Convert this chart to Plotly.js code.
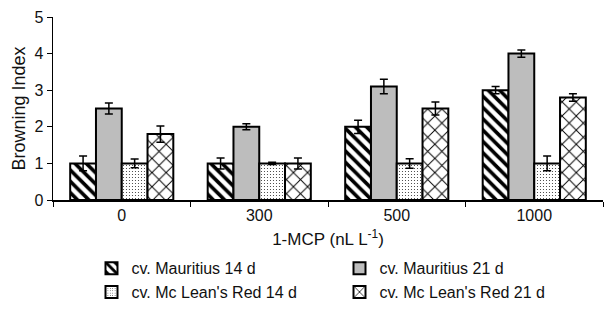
<!DOCTYPE html>
<html><head><meta charset="utf-8">
<script src="https://cdn.plot.ly/plotly-3.0.1.min.js"></script>
<style>body{margin:0;padding:0;background:#fff}#chart{width:606px;height:312px}</style>
</head><body><div id="chart"></div>
<script>
const categories = ["0", "300", "500", "1000"];
const seriesNames = ["cv. Mauritius 14 d", "cv. Mauritius 21 d", "cv. Mc Lean's Red 14 d", "cv. Mc Lean's Red 21 d"];
const mauritius14 = [1.0, 1.0, 2.0, 3.0];
const mauritius14Err = [0.2, 0.15, 0.18, 0.1];
const mauritius21 = [2.5, 2.0, 3.1, 4.0];
const mauritius21Err = [0.15, 0.08, 0.2, 0.1];
const mclean14 = [1.0, 1.0, 1.0, 1.0];
const mclean14Err = [0.12, 0.03, 0.13, 0.2];
const mclean21 = [1.8, 1.0, 2.5, 2.8];
const mclean21Err = [0.22, 0.15, 0.18, 0.1];

const values = [mauritius14, mauritius21, mclean14, mclean21];
const errs = [mauritius14Err, mauritius21Err, mclean14Err, mclean21Err];
const patterns = [
  {shape: "\\", fgcolor: "#000", bgcolor: "#fff", size: 8, solidity: 0.45},
  {shape: "", fgcolor: "#000", bgcolor: "#bdbdbd"},
  {shape: ".", fgcolor: "#333", bgcolor: "#fff", size: 3, solidity: 0.12},
  {shape: "x", fgcolor: "#000", bgcolor: "#fff", size: 10, solidity: 0.18}
];
const fills = ["#fff", "#bdbdbd", "#fff", "#fff"];

const traces = values.map((v, i) => ({
  type: "bar",
  name: seriesNames[i],
  x: categories,
  y: v,
  marker: {color: fills[i], pattern: patterns[i], line: {color: "#000", width: 2}},
  error_y: {type: "data", array: errs[i], visible: true, color: "#000", thickness: 1.5, width: 4}
}));

const layout = {
  width: 606, height: 312,
  margin: {l: 53, r: 3, t: 17, b: 112},
  paper_bgcolor: "#fff", plot_bgcolor: "#fff",
  font: {family: "Liberation Sans, Arial, sans-serif", size: 16, color: "#111"},
  barmode: "group",
  bargap: 0.25,
  bargroupgap: 0,
  showlegend: true,
  legend: {orientation: "h", x: 0.07, xanchor: "left", y: -0.28, yanchor: "top",
           entrywidth: 203, entrywidthmode: "pixels", font: {size: 16}, traceorder: "normal"},
  xaxis: {type: "category", showline: true, linecolor: "#000", linewidth: 1.5,
          ticks: "outside", tickson: "boundaries", ticklen: 5, tickcolor: "#000",
          tickfont: {size: 16}, showgrid: false, automargin: false,
          title: {text: "1-MCP (nL L<sup>-1</sup>)", font: {size: 17}, standoff: 10}},
  yaxis: {range: [0, 5], dtick: 1, showline: true, linecolor: "#000", linewidth: 1.5,
          ticks: "outside", ticklen: 5, tickcolor: "#000", showgrid: false, zeroline: false,
          tickfont: {size: 16}, automargin: false,
          title: {text: "Browning Index", font: {size: 18}, standoff: 4}}
};
Plotly.newPlot("chart", traces, layout, {displayModeBar: false, staticPlot: true});
</script></body></html>
